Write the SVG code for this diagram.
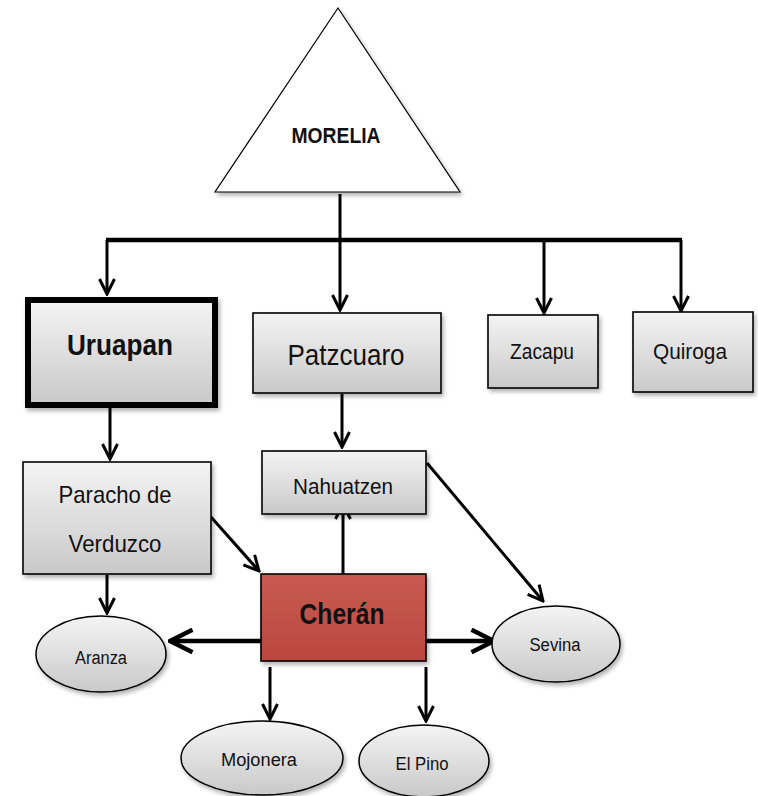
<svg xmlns="http://www.w3.org/2000/svg" width="758" height="796" viewBox="0 0 758 796">
<style>
.box{stroke:#000;stroke-width:1.6;fill:url(#g)}
.ell{stroke:#000;stroke-width:1.5;fill:url(#g)}
.t{font-family:"Liberation Sans",Arial,sans-serif;fill:#111;text-anchor:middle}
.c{stroke:#000;stroke-width:3;fill:none}
.cb{stroke:#000;stroke-width:4.5;fill:none}
</style>
<defs>
<linearGradient id="g" x1="0" y1="0" x2="0" y2="1">
<stop offset="0" stop-color="#f4f4f4"/>
<stop offset="1" stop-color="#c9c9c9"/>
</linearGradient>
<linearGradient id="r" x1="0" y1="0" x2="0" y2="1">
<stop offset="0" stop-color="#c95a52"/>
<stop offset="1" stop-color="#b9483f"/>
</linearGradient>
<filter id="sh" x="-10%" y="-10%" width="130%" height="130%">
<feDropShadow dx="2" dy="3" stdDeviation="2" flood-color="#000" flood-opacity="0.3"/>
</filter>
<marker id="a" viewBox="0 0 12 12" refX="11" refY="6" markerWidth="6" markerHeight="6" markerUnits="strokeWidth" orient="auto">
<path d="M1,1 L11,6 L1,11" fill="none" stroke="#000" stroke-width="2"/>
</marker>
</defs>

<g id="connectors">
<path class="c" d="M340,194 V241"/>
<path class="cb" d="M106,240 H682"/>
<path class="c" d="M107,240 V294" marker-end="url(#a)"/>
<path class="c" d="M340,240 V310" marker-end="url(#a)"/>
<path class="c" d="M544,240 V313" marker-end="url(#a)"/>
<path class="c" d="M681,240 V311" marker-end="url(#a)"/>
<path class="c" d="M110,408 V459" marker-end="url(#a)"/>
<path class="c" d="M342,394 V447" marker-end="url(#a)"/>
<path class="c" d="M343,574 V504" marker-end="url(#a)"/>
<path class="c" d="M211,517 L259,571" marker-end="url(#a)"/>
<path class="c" d="M427,463 L543,601" marker-end="url(#a)"/>
<path class="c" d="M107,575 V613" marker-end="url(#a)"/>
<path class="cb" d="M261,641 H170" marker-end="url(#a)"/>
<path class="cb" d="M426,641 H494" marker-end="url(#a)"/>
<path class="c" d="M270,667 V719" marker-end="url(#a)"/>
<path class="c" d="M426,667 V721" marker-end="url(#a)"/>
</g>

<g id="morelia">
<polygon points="338,8 215,192 460,192" fill="#fff" stroke="#000" stroke-width="1.2" filter="url(#sh)"/>
<text class="t" x="336" y="143" font-size="22" font-weight="bold" textLength="89" lengthAdjust="spacingAndGlyphs">MORELIA</text>
</g>

<g id="uruapan">
<rect x="28" y="300" width="187" height="105" fill="url(#g)" stroke="#000" stroke-width="6" filter="url(#sh)"/>
<text class="t" x="120" y="355" font-size="30" font-weight="bold" textLength="106" lengthAdjust="spacingAndGlyphs">Uruapan</text>
</g>

<g id="patzcuaro">
<rect class="box" x="253" y="313" width="188" height="80" filter="url(#sh)"/>
<text class="t" x="346" y="365" font-size="29" textLength="117" lengthAdjust="spacingAndGlyphs">Patzcuaro</text>
</g>

<g id="zacapu">
<rect class="box" x="488" y="315" width="110" height="73" filter="url(#sh)"/>
<text class="t" x="542" y="359" font-size="22" textLength="64" lengthAdjust="spacingAndGlyphs">Zacapu</text>
</g>

<g id="quiroga">
<rect class="box" x="633" y="312" width="120" height="80" filter="url(#sh)"/>
<text class="t" x="690" y="359" font-size="22" textLength="74" lengthAdjust="spacingAndGlyphs">Quiroga</text>
</g>

<g id="paracho">
<rect class="box" x="23" y="462" width="188" height="112" filter="url(#sh)"/>
<text class="t" x="115" y="503" font-size="24" textLength="113" lengthAdjust="spacingAndGlyphs">Paracho de</text>
<text class="t" x="115" y="552" font-size="24" textLength="93" lengthAdjust="spacingAndGlyphs">Verduzco</text>
</g>

<g id="nahuatzen">
<rect class="box" x="262" y="451" width="164" height="63" filter="url(#sh)"/>
<text class="t" x="343" y="494" font-size="22" textLength="100" lengthAdjust="spacingAndGlyphs">Nahuatzen</text>
</g>

<g id="cheran">
<rect x="261" y="574" width="165" height="87" fill="url(#r)" stroke="#000" stroke-width="1.6" filter="url(#sh)"/>
<text class="t" x="342" y="624" font-size="30" font-weight="bold" textLength="85" lengthAdjust="spacingAndGlyphs">Cherán</text>
</g>

<g id="aranza">
<ellipse class="ell" cx="101" cy="654" rx="65" ry="38" filter="url(#sh)"/>
<text class="t" x="101" y="664" font-size="18" textLength="52" lengthAdjust="spacingAndGlyphs">Aranza</text>
</g>

<g id="sevina">
<ellipse class="ell" cx="556" cy="644" rx="64" ry="38" filter="url(#sh)"/>
<text class="t" x="555" y="651" font-size="18" textLength="51" lengthAdjust="spacingAndGlyphs">Sevina</text>
</g>

<g id="mojonera">
<ellipse class="ell" cx="262" cy="758" rx="81" ry="37" filter="url(#sh)"/>
<text class="t" x="259" y="766" font-size="18" textLength="76" lengthAdjust="spacingAndGlyphs">Mojonera</text>
</g>

<g id="elpino">
<ellipse class="ell" cx="424" cy="761" rx="65" ry="36" filter="url(#sh)"/>
<text class="t" x="422" y="770" font-size="18" textLength="53" lengthAdjust="spacingAndGlyphs">El Pino</text>
</g>
</svg>
